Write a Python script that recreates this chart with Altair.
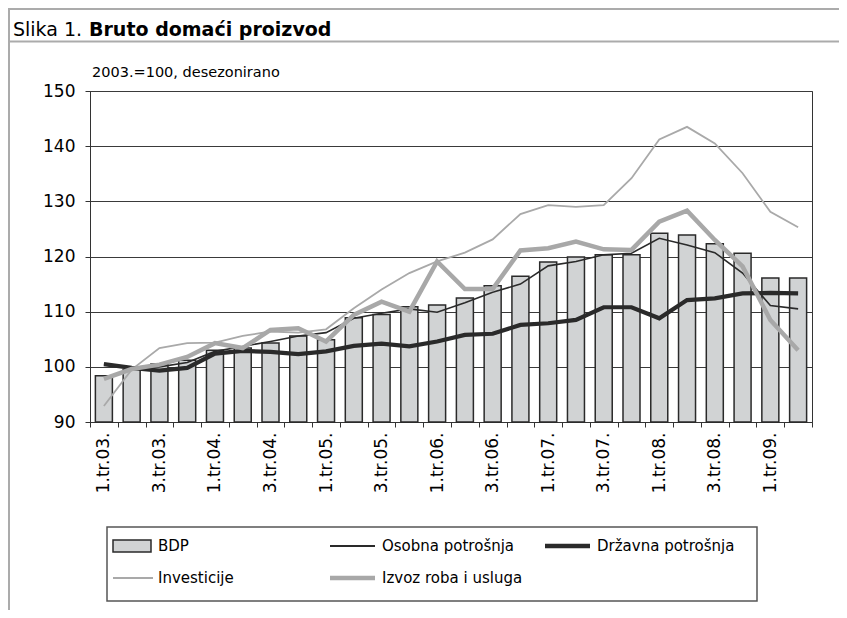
import altair as alt
import pandas as pd

kvartali = ["1.tr.03.", "2.tr.03.", "3.tr.03.", "4.tr.03.",
            "1.tr.04.", "2.tr.04.", "3.tr.04.", "4.tr.04.",
            "1.tr.05.", "2.tr.05.", "3.tr.05.", "4.tr.05.",
            "1.tr.06.", "2.tr.06.", "3.tr.06.", "4.tr.06.",
            "1.tr.07.", "2.tr.07.", "3.tr.07.", "4.tr.07.",
            "1.tr.08.", "2.tr.08.", "3.tr.08.", "4.tr.08.",
            "1.tr.09.", "2.tr.09."]
bdp = [98.4, 99.5, 100.5, 101.2, 103.0, 103.4, 104.3, 105.6, 104.9, 108.9, 109.5, 110.9, 111.2,
       112.5, 114.7, 116.4, 119.0, 119.9, 120.3, 120.3, 124.2, 123.9, 122.3, 120.6, 116.1, 116.1]
osobna = [100.5, 99.9, 100.0, 100.8, 102.8, 103.7, 104.6, 105.6, 106.2, 108.8, 109.7, 110.5, 109.9,
          111.6, 113.5, 115.0, 118.3, 119.1, 120.3, 120.6, 123.3, 122.1, 120.7, 117.0, 111.1, 110.5]
drzavna = [100.5, 99.8, 99.3, 99.8, 102.4, 102.9, 102.7, 102.3, 102.8, 103.8, 104.2, 103.7, 104.6,
           105.8, 106.0, 107.6, 107.9, 108.5, 110.8, 110.8, 108.8, 112.1, 112.4, 113.3, 113.4, 113.3]
investicije = [92.9, 99.5, 103.4, 104.3, 104.4, 105.6, 106.4, 106.2, 106.8, 110.6, 114.0, 117.0, 119.1,
               120.7, 123.1, 127.7, 129.3, 129.0, 129.3, 134.2, 141.2, 143.5, 140.5, 135.1, 128.1, 125.3]
izvoz = [97.8, 99.6, 100.4, 101.8, 104.3, 103.4, 106.7, 107.0, 104.6, 109.4, 111.8, 110.0, 119.1,
         114.1, 114.1, 121.1, 121.5, 122.7, 121.3, 121.2, 126.3, 128.3, 123.0, 118.2, 108.5, 103.0]
y_ticks = [90, 100, 110, 120, 130, 140, 150]

naslov_a = "Slika 1."
naslov_b = "Bruto domaći proizvod"
podnaslov = "2003.=100, desezonirano"
legenda = ["BDP", "Osobna potrošnja", "Državna potrošnja", "Investicije", "Izvoz roba i usluga"]

W, H = 722, 331
PAD_L, PAD_T = 82, 83
CW, CH = 831, 602
FONT = "DejaVu Sans"
BAR_FILL = "#d1d3d4"
DARK = "#2a2a2a"
GRAY_T = "#a9a9a9"
GRAY_L = "#a8a8a8"
FRAME = "#ababab"

df = pd.DataFrame({"kvartal": kvartali, "BDP": bdp, "Osobna": osobna, "Drzavna": drzavna,
                   "Investicije": investicije, "Izvoz": izvoz})
one = pd.DataFrame({"a": [0]})

x_enc = alt.X("kvartal:O", sort=kvartali,
              scale=alt.Scale(paddingInner=0, paddingOuter=0),
              axis=alt.Axis(title=None, labelAngle=270,
                            labelExpr="indexof(['1','3'], substring(datum.label,0,1)) >= 0 ? datum.label : ''",
                            tickBand="extent", tickSize=5, tickColor="#333", domainColor="#333",
                            labelFont=FONT, labelFontSize=17, labelColor="black",
                            labelPadding=5, labelOverlap=False))


def y_enc(field):
    return alt.Y(f"{field}:Q", scale=alt.Scale(domain=[90, 150], nice=False, zero=False),
                 axis=alt.Axis(title=None, values=y_ticks, grid=True, gridColor="#3a3a3a",
                               gridWidth=1, tickSize=5, tickColor="#333", domainColor="#333",
                               labelFont=FONT, labelFontSize=17, labelColor="black",
                               labelPadding=10))


bars = alt.Chart(df).mark_bar(size=17, fill=BAR_FILL, stroke=DARK, strokeWidth=1.5).encode(
    x=x_enc, y=y_enc("BDP"), y2=alt.datum(90))


def line(field, color, width):
    return alt.Chart(df).mark_line(color=color, strokeWidth=width, strokeJoin="miter").encode(
        x=x_enc, y=y_enc(field))


lines = [
    line("Investicije", GRAY_T, 1.8),
    line("Osobna", DARK, 1.6),
    line("Drzavna", DARK, 4.2),
    line("Izvoz", GRAY_L, 4.5),
]


def hrule(x1, x2, y, color, w):
    return alt.Chart(one).mark_rule(color=color, strokeWidth=w).encode(
        x=alt.value(x1), x2=alt.value(x2), y=alt.value(y))


def vrule(x, y1, y2, color, w):
    return alt.Chart(one).mark_rule(color=color, strokeWidth=w).encode(
        x=alt.value(x), y=alt.value(y1), y2=alt.value(y2))


def text(t, x, y, size, weight="normal", baseline="alphabetic"):
    return alt.Chart(one).mark_text(text=t, align="left", baseline=baseline, font=FONT,
                                    fontSize=size, fontWeight=weight, color="black").encode(
        x=alt.value(x), y=alt.value(y))


# frame and header (coordinates relative to plot origin)
deco = [
    hrule(-PAD_L, CW - PAD_L, -PAD_T + 1, FRAME, 2),
    vrule(-PAD_L + 1, -PAD_T, CH - PAD_T, FRAME, 2),
    hrule(-PAD_L, CW - PAD_L, -49.5, FRAME, 2),
    text(naslov_a, -77, -55, 19),
    text(naslov_b, -1, -55, 19, "bold"),
    text(podnaslov, 2, -14, 14.5),
]

# legend
LX0, LX1, LY0, LY1 = 17, 667, 436, 510
R1, R2 = 455, 487
C1, C2, C3 = 23, 240, 455
GL = 40
leg = [
    alt.Chart(one).mark_rect(fill="white", fillOpacity=0, stroke="#555", strokeWidth=1.5).encode(
        x=alt.value(LX0), x2=alt.value(LX1), y=alt.value(LY0), y2=alt.value(LY1)),
    alt.Chart(one).mark_rect(fill=BAR_FILL, stroke=DARK, strokeWidth=1.5).encode(
        x=alt.value(C1), x2=alt.value(C1 + GL - 2), y=alt.value(R1 - 6), y2=alt.value(R1 + 6)),
    hrule(C2, C2 + GL + 5, R1, DARK, 2),
    hrule(C3, C3 + GL + 5, R1, DARK, 4.5),
    hrule(C1, C1 + GL, R2, GRAY_T, 2),
    hrule(C2, C2 + GL + 5, R2, GRAY_L, 4.5),
    text(legenda[0], C1 + GL + 5, R1, 15, baseline="middle"),
    text(legenda[1], C2 + GL + 12, R1, 15, baseline="middle"),
    text(legenda[2], C3 + GL + 12, R1, 15, baseline="middle"),
    text(legenda[3], C1 + GL + 5, R2, 15, baseline="middle"),
    text(legenda[4], C2 + GL + 12, R2, 15, baseline="middle"),
]

chart = alt.layer(bars, *lines, *deco, *leg).properties(
    width=W, height=H,
    autosize=alt.AutoSizeParams(type="none"),
    padding={"left": PAD_L, "top": PAD_T, "right": CW - PAD_L - W, "bottom": CH - PAD_T - H},
    background="white",
).configure_view(stroke="#333", strokeWidth=1)

chart.save("out.html", embed_options={"renderer": "svg", "actions": False})
